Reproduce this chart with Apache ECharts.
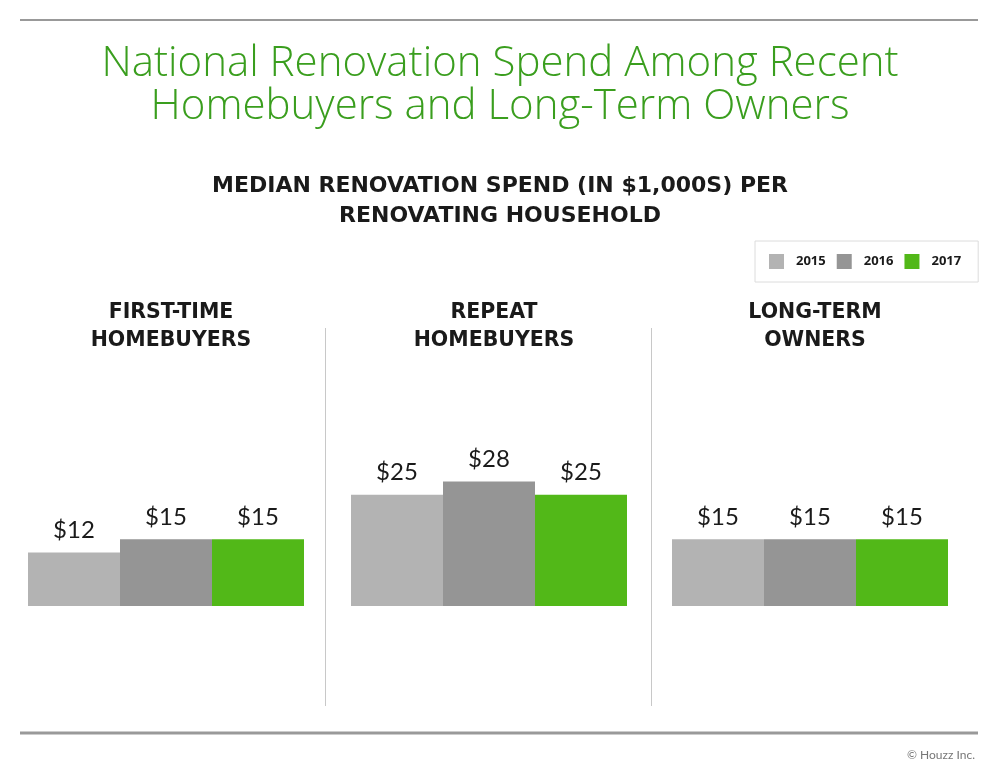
<!DOCTYPE html>
<html>
<head>
<meta charset="utf-8">
<script src="https://cdn.jsdelivr.net/npm/echarts@6/dist/echarts.min.js"></script>
<style>
  html, body { margin: 0; padding: 0; background: #fff; }
  #chart { width: 1000px; height: 776px; }
</style>
</head>
<body>
<div id="chart"></div>
<script>
// groups shown side by side
var groups = ['FIRST-TIME\nHOMEBUYERS', 'REPEAT\nHOMEBUYERS', 'LONG-TERM\nOWNERS'];
var years = ['2015', '2016', '2017'];
// median spend in $1,000s, one list per year, in group order
var spend2015 = [12, 25, 15];
var spend2016 = [15, 28, 15];
var spend2017 = [15, 25, 15];
var yearColors = ['#b3b3b3', '#959595', '#52b818'];

var values = [spend2015, spend2016, spend2017];
var gridLeft = [28, 351, 672];
var gridWidth = 276;
var boldFont = 'DejaVu Sans';

var grids = [], xAxes = [], yAxes = [], series = [], titles = [];

titles.push({
	text: 'National Renovation Spend Among Recent\nHomebuyers and Long-Term Owners',
	left: 'center', top: 38,
	textStyle: { color: '#3a9e1e', fontFamily: 'Open Sans', fontWeight: 300, fontSize: 42, lineHeight: 43 }
});
titles.push({
	text: 'MEDIAN RENOVATION SPEND (IN $1,000S) PER\nRENOVATING HOUSEHOLD',
	left: 'center', top: 166,
	textStyle: { color: '#1a1a1a', fontFamily: boldFont, fontWeight: 'bold', fontSize: 22, lineHeight: 30 }
});
titles.push({
	text: '© Houzz Inc.',
	right: 20, top: 744,
	textStyle: { color: '#777', fontFamily: 'Lato', fontWeight: 'normal', fontSize: 12 }
});

groups.forEach(function(g, i){
	titles.push({
		text: g,
		left: gridLeft[i] + gridWidth / 2, top: 294, textAlign: 'center',
		textStyle: { color: '#1a1a1a', fontFamily: boldFont, fontWeight: 'bold', fontSize: 20.5, lineHeight: 28, align: 'center' }
	});
	grids.push({ left: gridLeft[i], width: gridWidth, top: 428, height: 178 });
	xAxes.push({ type: 'category', gridIndex: i, data: [g], show: false });
	yAxes.push({ type: 'value', gridIndex: i, min: 0, max: 40, show: false });
	years.forEach(function(y, k){
		series.push({
			name: y,
			type: 'bar',
			xAxisIndex: i,
			yAxisIndex: i,
			barGap: '0%',
			barCategoryGap: '0%',
			itemStyle: { color: yearColors[k] },
			label: {
				show: true, position: 'top', distance: 10,
				formatter: '${c}',
				color: '#1a1a1a', fontFamily: 'Lato', fontSize: 24
			},
			data: [values[k][i]]
		});
	});
});

var chart = echarts.init(document.getElementById('chart'));
chart.setOption({
	backgroundColor: '#fff',
	animation: false,
	color: yearColors,
	title: titles,
	legend: {
		data: years,
		left: 755, top: 241,
		padding: [13, 17, 13, 14],
		borderColor: '#dcdcdc', borderWidth: 1,
		icon: 'rect',
		itemWidth: 15, itemHeight: 15, itemGap: 11,
		textStyle: { color: '#1a1a1a', fontFamily: 'Open Sans', fontWeight: 'bold', fontSize: 13, padding: [0, 0, 0, 7] }
	},
	grid: grids,
	xAxis: xAxes,
	yAxis: yAxes,
	series: series,
	graphic: [
		{ type: 'line', shape: { x1: 20, y1: 20, x2: 978, y2: 20 }, style: { stroke: '#999', lineWidth: 2 } },
		{ type: 'line', shape: { x1: 20, y1: 733, x2: 978, y2: 733 }, style: { stroke: '#999', lineWidth: 3 } },
		{ type: 'line', shape: { x1: 325.5, y1: 328, x2: 325.5, y2: 706 }, style: { stroke: '#c8c8c8', lineWidth: 1 } },
		{ type: 'line', shape: { x1: 651.5, y1: 328, x2: 651.5, y2: 706 }, style: { stroke: '#c8c8c8', lineWidth: 1 } }
	]
});
</script>
</body>
</html>
